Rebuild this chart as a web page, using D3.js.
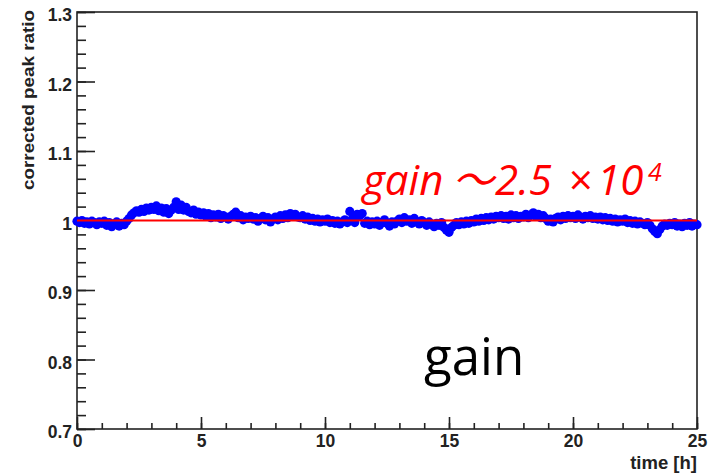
<!DOCTYPE html>
<html>
<head>
<meta charset="utf-8">
<script src="https://cdn.jsdelivr.net/npm/d3@7"></script>
<style>
  body { margin: 0; background: #fff; }
  svg text { font-family: "Liberation Sans", Arial, sans-serif; }
</style>
</head>
<body>
<svg id="chart"></svg>
<script>
// ---------------------------//
//            DATA            //
// ---------------------------//

// measurement points: [time in h, corrected peak ratio]
var points = [
  [0.0,0.999],[0.1,0.997],[0.2,1.000],[0.3,0.996],[0.4,0.998],[0.5,0.995],[0.6,0.999],[0.7,0.997],[0.8,0.994],[0.9,0.998],
  [1.0,0.996],[1.1,0.999],[1.2,0.993],[1.3,0.997],[1.4,0.991],[1.5,0.995],[1.6,0.998],[1.7,0.992],[1.8,0.996],[1.9,0.994],
  [2.0,0.999],[2.1,1.003],[2.2,1.008],[2.3,1.011],[2.4,1.014],[2.5,1.012],[2.6,1.016],[2.7,1.013],[2.8,1.018],[2.9,1.015],
  [3.0,1.019],[3.1,1.016],[3.2,1.021],[3.3,1.014],[3.4,1.018],[3.5,1.012],[3.6,1.017],[3.7,1.010],[3.8,1.015],[3.9,1.019],
  [4.0,1.027],[4.1,1.016],[4.2,1.022],[4.3,1.015],[4.4,1.019],[4.5,1.013],[4.6,1.011],[4.7,1.015],[4.8,1.009],[4.9,1.012],
  [5.0,1.008],[5.1,1.011],[5.2,1.006],[5.3,1.010],[5.4,1.004],[5.5,1.008],[5.6,1.005],[5.7,1.009],[5.8,1.003],[5.9,1.007],
  [6.0,1.005],[6.1,1.002],[6.2,1.006],[6.3,1.009],[6.4,1.012],[6.5,1.004],[6.6,1.007],[6.7,1.001],[6.8,1.005],[6.9,1.003],
  [7.0,1.006],[7.1,1.002],[7.2,1.004],[7.3,0.999],[7.4,1.003],[7.5,1.006],[7.6,1.001],[7.7,1.004],[7.8,0.998],[7.9,1.002],
  [8.0,1.005],[8.1,1.001],[8.2,1.007],[8.3,1.003],[8.4,1.008],[8.5,1.004],[8.6,1.010],[8.7,1.006],[8.8,1.009],[8.9,1.005],
  [9.0,1.004],[9.1,1.007],[9.2,1.002],[9.3,1.005],[9.4,1.000],[9.5,1.003],[9.6,0.999],[9.7,1.002],[9.8,0.998],[9.9,1.001],
  [10.0,0.999],[10.1,1.002],[10.2,0.997],[10.3,1.000],[10.4,0.996],[10.5,0.999],[10.6,0.995],[10.7,0.998],[10.8,1.001],[10.9,0.997],
  [11.0,1.013],[11.1,1.002],[11.2,0.997],[11.3,1.009],[11.4,1.007],[11.5,1.010],[11.6,0.996],[11.7,0.999],[11.8,0.994],[11.9,0.998],
  [12.0,0.995],[12.1,0.999],[12.2,0.993],[12.3,0.997],[12.4,1.001],[12.5,0.996],[12.6,0.992],[12.7,0.998],[12.8,0.995],[12.9,0.999],
  [13.0,1.002],[13.1,0.997],[13.2,1.004],[13.3,0.999],[13.4,1.001],[13.5,0.996],[13.6,1.003],[13.7,0.998],[13.8,0.995],[13.9,1.000],
  [14.0,0.997],[14.1,0.993],[14.2,0.998],[14.3,0.995],[14.4,0.991],[14.5,0.996],[14.6,0.993],[14.7,0.997],[14.8,0.990],[14.9,0.986],
  [15.0,0.983],[15.1,0.990],[15.2,0.993],[15.3,0.997],[15.4,0.994],[15.5,0.998],[15.6,0.995],[15.7,0.999],[15.8,0.996],[15.9,1.000],
  [16.0,0.998],[16.1,1.002],[16.2,0.999],[16.3,1.003],[16.4,1.000],[16.5,1.004],[16.6,1.001],[16.7,1.005],[16.8,1.002],[16.9,1.006],
  [17.0,1.004],[17.1,1.007],[17.2,1.003],[17.3,1.006],[17.4,1.002],[17.5,1.008],[17.6,1.004],[17.7,1.007],[17.8,1.003],[17.9,1.006],
  [18.0,1.005],[18.1,1.009],[18.2,1.004],[18.3,1.008],[18.4,1.011],[18.5,1.006],[18.6,1.009],[18.7,1.004],[18.8,1.007],[18.9,1.003],
  [19.0,0.999],[19.1,1.002],[19.2,0.998],[19.3,1.003],[19.4,1.005],[19.5,1.001],[19.6,1.006],[19.7,1.003],[19.8,1.007],[19.9,1.004],
  [20.0,1.006],[20.1,1.003],[20.2,1.008],[20.3,1.005],[20.4,1.002],[20.5,1.006],[20.6,1.004],[20.7,1.007],[20.8,1.003],[20.9,1.005],
  [21.0,1.002],[21.1,1.005],[21.2,1.001],[21.3,1.004],[21.4,1.000],[21.5,1.003],[21.6,0.999],[21.7,1.002],[21.8,0.998],[21.9,1.001],
  [22.0,0.999],[22.1,1.002],[22.2,0.997],[22.3,1.000],[22.4,0.996],[22.5,0.999],[22.6,0.995],[22.7,0.998],[22.8,0.996],[22.9,0.994],
  [23.0,0.997],[23.1,0.993],[23.2,0.988],[23.3,0.984],[23.4,0.981],[23.5,0.987],[23.6,0.992],[23.7,0.995],[23.8,0.993],[23.9,0.996],
  [24.0,0.994],[24.1,0.997],[24.2,0.992],[24.3,0.995],[24.4,0.991],[24.5,0.996],[24.6,0.993],[24.7,0.997],[24.8,0.992],[24.9,0.995],
  [25.0,0.994]
];

var fitLevel = 1.0;             // red reference line
var xTicks = [0, 5, 10, 15, 20, 25];
var yTicks = [0.7, 0.8, 0.9, 1.0, 1.1, 1.2, 1.3];
var yTickLabels = ["0.7", "0.8", "0.9", "1", "1.1", "1.2", "1.3"];

// ---------------------------//
//         DIMENSIONS         //
// ---------------------------//

var W = 713, H = 474;
var margin = { top: 12, right: 16, bottom: 45, left: 77 };
var width = W - margin.left - margin.right;
var height = H - margin.top - margin.bottom;

var svg = d3.select("#chart").attr("width", W).attr("height", H);
var g = svg.append("g")
    .attr("transform", "translate(" + margin.left + "," + margin.top + ")");

// ---------------------------//
//       AXIS  AND SCALE      //
// ---------------------------//

var x = d3.scaleLinear().domain([0, 25]).range([0, width]);
var y = d3.scaleLinear().domain([0.7, 1.3]).range([height, 0]);

// minor ticks first (no labels)
g.append("g")
    .attr("transform", "translate(0," + height + ")")
    .call(d3.axisBottom(x).tickValues(d3.range(0, 26, 1)).tickSize(-6).tickFormat(""));
g.append("g")
    .call(d3.axisLeft(y).tickValues(d3.range(35, 66, 1).map(d => d / 50)).tickSize(-9).tickFormat(""));

// major ticks with labels
var xAxis = g.append("g")
    .attr("transform", "translate(0," + height + ")")
    .call(d3.axisBottom(x).tickValues(xTicks).tickSize(-12).tickPadding(6).tickFormat(d3.format("d")));
var yAxis = g.append("g")
    .call(d3.axisLeft(y).tickValues(yTicks).tickSize(-18).tickPadding(5)
      .tickFormat((d, i) => yTickLabels[i]));

g.selectAll(".domain").remove();
g.selectAll(".tick line").attr("stroke", "#222").attr("stroke-width", 1.6);
g.selectAll(".tick text")
    .attr("fill", "#222")
    .style("font-size", "17.5px")
    .style("font-weight", "bold");
yAxis.selectAll(".tick text").attr("dy", "0.5em");

// ---------------------------//
//           FRAME            //
// ---------------------------//

g.append("rect")
    .attr("width", width)
    .attr("height", height)
    .attr("fill", "none")
    .attr("stroke", "#222")
    .attr("stroke-width", 1.6);

// ---------------------------//
//           DRAWING          //
// ---------------------------//

g.append("g")
  .selectAll("circle")
  .data(points)
  .enter().append("circle")
    .attr("cx", d => x(d[0]))
    .attr("cy", d => y(d[1]))
    .attr("r", 4.6)
    .attr("fill", "#0000ff");

g.append("line")
    .attr("x1", x(0)).attr("x2", x(25))
    .attr("y1", y(fitLevel)).attr("y2", y(fitLevel))
    .attr("stroke", "#ff0000")
    .attr("stroke-width", 2);

// ---------------------------//
//           TITLES           //
// ---------------------------//

svg.append("text")
    .attr("transform", "translate(34,100) rotate(-90)")
    .attr("text-anchor", "middle")
    .style("font-size", "17px")
    .style("font-weight", "bold")
    .attr("textLength", 180)
    .attr("lengthAdjust", "spacingAndGlyphs")
    .attr("fill", "#222")
    .text("corrected peak ratio");

svg.append("text")
    .attr("x", 697)
    .attr("y", 469)
    .attr("text-anchor", "end")
    .style("font-size", "18.5px")
    .style("font-weight", "bold")
    .attr("fill", "#222")
    .text("time [h]");

// annotation
var ann = svg.append("text")
    .attr("y", 195)
    .attr("fill", "#ff0000")
    .style("font-family", "'Open Sans', 'Noto Sans CJK JP', sans-serif")
    .style("font-style", "italic")
    .style("font-size", "42px");
ann.append("tspan").attr("x", 363).text("gain");
ann.append("tspan").attr("x", 452).text("～");
ann.append("tspan").attr("x", 495).text("2.5");
ann.append("tspan").attr("x", 568).text("×");
ann.append("tspan").attr("x", 597).text("10");
ann.append("tspan")
    .attr("x", 648)
    .attr("dy", "-14")
    .style("font-size", "25px")
    .text("4");

svg.append("text")
    .attr("x", 424)
    .attr("y", 375)
    .attr("fill", "#000")
    .style("font-family", "'Open Sans', sans-serif")
    .style("font-size", "51px")
    .text("gain");
</script>
</body>
</html>
